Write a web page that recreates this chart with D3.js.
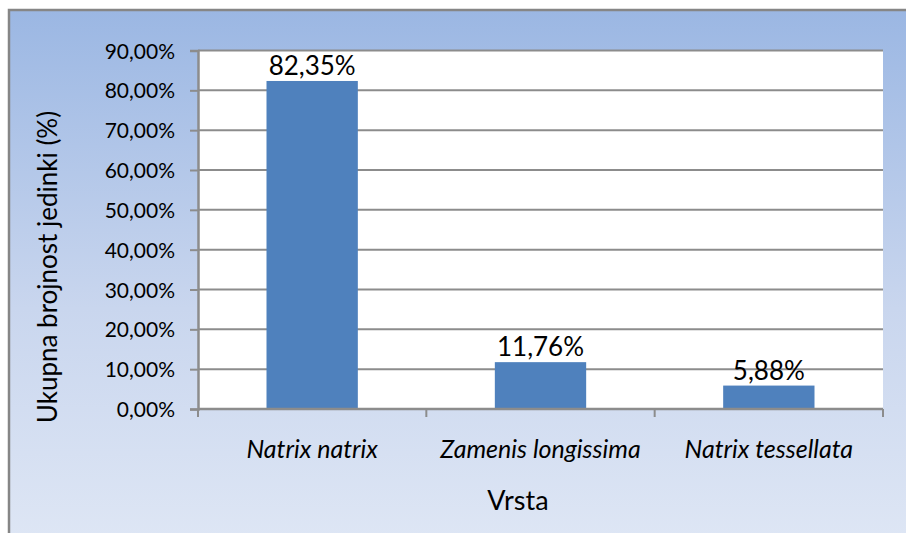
<!DOCTYPE html>
<html>
<head>
<meta charset="utf-8">
<script src="https://cdn.jsdelivr.net/npm/d3@7"></script>
<style>
  body { margin: 0; background: #fff; }
  text { font-family: Lato, "Open Sans", sans-serif; fill: #000; }
</style>
</head>
<body>
<div class="chart"></div>
<script>
const species = ["Natrix natrix", "Zamenis longissima", "Natrix tessellata"]
const shares = [82.35, 11.76, 5.88]
const yTicks = [0, 10, 20, 30, 40, 50, 60, 70, 80, 90]

const W = 906, H = 533
const margin = ({top: 50.5, right: 23, bottom: 124, left: 198})
const width = W - margin.left - margin.right,
      height = H - margin.top - margin.bottom

const fmt = v => d3.format(".2f")(v).replace(".", ",") + "%"

let svg = d3.select(".chart").append("svg")
    .attr("width", W)
    .attr("height", H)

let defs = svg.append("defs")
let grad = defs.append("linearGradient")
    .attr("id", "bg")
    .attr("x1", 0).attr("y1", 0).attr("x2", 0).attr("y2", 1)
grad.append("stop").attr("offset", "0%").attr("stop-color", "#9bb7e3")
grad.append("stop").attr("offset", "55%").attr("stop-color", "#c9d6ee")
grad.append("stop").attr("offset", "100%").attr("stop-color", "#dfe7f5")

// chart area with border (runs off right/bottom of the picture)
svg.append("rect")
    .attr("x", 9).attr("y", 10)
    .attr("width", W + 10).attr("height", H + 10)
    .attr("fill", "url(#bg)")
    .attr("stroke", "#868686")
    .attr("stroke-width", 2.5)

let g = svg.append("g")
    .attr("transform", `translate(${margin.left},${margin.top})`)

const xScale = d3.scaleBand()
    .domain(species)
    .range([0, width])
    .paddingInner(0.6)
    .paddingOuter(0.3)

const yScale = d3.scaleLinear()
    .domain([0, 90])
    .range([height, 0])

// plot area
g.append("rect")
    .attr("width", width)
    .attr("height", height)
    .attr("fill", "#fff")

// gridlines
g.selectAll(".grid")
    .data(yTicks.slice(1))
    .enter().append("line")
    .attr("class", "grid")
    .attr("x1", 0).attr("x2", width)
    .attr("y1", d => yScale(d)).attr("y2", d => yScale(d))
    .attr("stroke", "#8c8c8c")
    .attr("stroke-width", 2)

// bars
g.selectAll(".bars")
    .data(species)
    .enter().append("rect")
    .attr("class", "bars")
    .attr("x", d => xScale(d))
    .attr("width", xScale.bandwidth())
    .attr("y", (d, i) => yScale(shares[i]))
    .attr("height", (d, i) => height - yScale(shares[i]))
    .attr("fill", "#4f81bd")

// value labels
g.selectAll(".val")
    .data(species)
    .enter().append("text")
    .attr("class", "val")
    .attr("x", d => xScale(d) + xScale.bandwidth() / 2)
    .attr("y", (d, i) => yScale(shares[i]) - 6)
    .attr("text-anchor", "middle")
    .style("font-size", "26px")
    .text((d, i) => fmt(shares[i]))

// y axis
let yAxis = d3.axisLeft(yScale)
    .tickValues(yTicks)
    .tickSize(8)
    .tickPadding(15)
    .tickFormat(fmt)

let ya = g.append("g")
    .attr("class", "axis y-axis")
    .call(yAxis)
ya.select(".domain").attr("stroke", "#8c8c8c").attr("stroke-width", 2.5)
ya.selectAll(".tick line").attr("stroke", "#8c8c8c").attr("stroke-width", 2)
ya.selectAll(".tick text")
    .style("font-size", "21px")
    .attr("dy", "0.36em")

// x axis: ticks at category boundaries
let bounds = [0, 1, 2, 3].map(i => i * width / 3)
g.append("line")
    .attr("x1", 0).attr("x2", width)
    .attr("y1", height).attr("y2", height)
    .attr("stroke", "#8c8c8c")
    .attr("stroke-width", 2.5)
g.selectAll(".xtick")
    .data(bounds)
    .enter().append("line")
    .attr("class", "xtick")
    .attr("x1", d => d).attr("x2", d => d)
    .attr("y1", height).attr("y2", height + 8)
    .attr("stroke", "#8c8c8c")
    .attr("stroke-width", 2)

g.selectAll(".xlabel")
    .data(species)
    .enter().append("text")
    .attr("class", "xlabel")
    .attr("x", d => xScale(d) + xScale.bandwidth() / 2)
    .attr("y", height + 49)
    .attr("text-anchor", "middle")
    .style("font-size", "25px")
    .style("font-style", "italic")
    .text(d => d)

// axis titles
svg.append("text")
    .attr("x", 518)
    .attr("y", 510)
    .attr("text-anchor", "middle")
    .style("font-size", "27px")
    .text("Vrsta")

svg.append("text")
    .attr("transform", "translate(57,267) rotate(-90)")
    .attr("text-anchor", "middle")
    .style("font-size", "26px")
    .text("Ukupna brojnost jedinki (%)")
</script>
</body>
</html>
